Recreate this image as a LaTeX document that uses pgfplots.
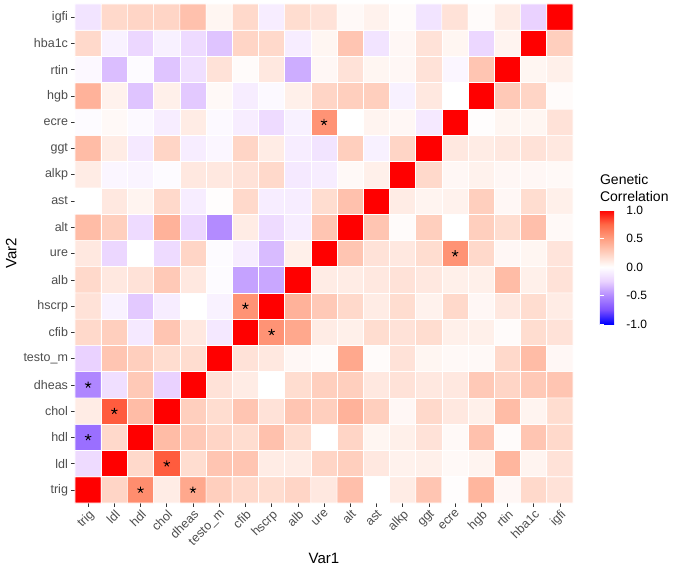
\documentclass[border=0pt]{standalone}
\usepackage{fontspec}
\setmainfont{Liberation Sans}
\usepackage{pgfplots}
\pgfplotsset{compat=1.18}
\definecolor{tickgray}{HTML}{4D4D4D}
\definecolor{tickline}{HTML}{333333}
\begin{document}
\begin{tikzpicture}
\begin{axis}[
 name=ax,
 scale only axis, width=498pt, height=499pt,
 xmin=-0.5, xmax=18.5, ymin=-0.5, ymax=18.5,
 clip=false,
 axis line style={draw=none},
 xtick={0,...,18}, ytick={0,...,18},
 xticklabels={trig,ldl,hdl,chol,dheas,testo\_m,cfib,hscrp,alb,ure,alt,ast,alkp,ggt,ecre,hgb,rtin,hba1c,igfi},
 yticklabels={trig,ldl,hdl,chol,dheas,testo\_m,cfib,hscrp,alb,ure,alt,ast,alkp,ggt,ecre,hgb,rtin,hba1c,igfi},
 tick align=outside, major tick length=3.5pt,
 tick style={tickline, line width=0.5pt},
 xtick pos=bottom, ytick pos=left,
 tick label style={font=\fontsize{12.5}{14}\selectfont, text=tickgray},
 xticklabel style={rotate=45, anchor=north east, inner sep=1.5pt},
 xlabel={Var1}, ylabel={Var2},
 label style={font=\fontsize{15}{18}\selectfont},
 colormap={gg}{rgb255=(0,0,255) rgb255=(126,81,255) rgb255=(179,139,255) rgb255=(234,210,255) rgb255=(255,255,255) rgb255=(255,207,190) rgb255=(255,158,129) rgb255=(255,104,70) rgb255=(255,0,0)},
 point meta min=-1, point meta max=1,
 colorbar,
 colorbar style={
   at={(1.054,0.3587)}, anchor=south west,
   scale only axis, width=23pt, height=114pt,
   y dir=normal,
   ytick={-1,-0.5,0,0.5,1},
   yticklabel={\pgfmathprintnumber[fixed,fixed zerofill,precision=1]{\tick}},
   /pgf/number format/assume math mode=true,
   yticklabel style={font=\fontsize{12}{14}\selectfont, text=black},
   major tick length=4pt, tick align=inside,
   tick style={white, line width=0.7pt},
   ytick pos=both, yticklabel pos=right,
   axis line style={draw=none},
 },
 y dir=normal,
]
\addplot[matrix plot*, mesh/cols=19, point meta=explicit, draw=white, line width=0.6pt, y dir=normal]
 table[x=x, y=y, meta=c, row sep=\\] {
x y c\\
0 0 1\\ 1 0 0.22\\ 2 0 0.58\\ 3 0 0.1\\ 4 0 0.45\\ 5 0 0.25\\ 6 0 0.2\\ 7 0 0.18\\ 8 0 0.22\\ 9 0 0.12\\ 10 0 0.33\\ 11 0 0.0\\ 12 0 0.1\\ 13 0 0.3\\ 14 0 0.01\\ 15 0 0.38\\ 16 0 0.04\\ 17 0 0.2\\ 18 0 0.15\\
0 1 -0.2\\ 1 1 1\\ 2 1 0.2\\ 3 1 0.78\\ 4 1 0.18\\ 5 1 0.3\\ 6 1 0.3\\ 7 1 0.1\\ 8 1 0.1\\ 9 1 0.22\\ 10 1 0.25\\ 11 1 0.12\\ 12 1 0.07\\ 13 1 0.08\\ 14 1 0.03\\ 15 1 0.06\\ 16 1 0.38\\ 17 1 0.06\\ 18 1 0.15\\
0 2 -0.62\\ 1 2 0.2\\ 2 2 1\\ 3 2 0.35\\ 4 2 0.28\\ 5 2 0.22\\ 6 2 0.18\\ 7 2 0.32\\ 8 2 0.18\\ 9 2 0.0\\ 10 2 0.22\\ 11 2 0.05\\ 12 2 0.08\\ 13 2 0.15\\ 14 2 0.03\\ 15 2 0.32\\ 16 2 0.02\\ 17 2 0.3\\ 18 2 0.2\\
0 3 0.1\\ 1 3 0.78\\ 2 3 0.35\\ 3 3 1\\ 4 3 0.25\\ 5 3 0.18\\ 6 3 0.3\\ 7 3 0.15\\ 8 3 0.3\\ 9 3 0.25\\ 10 3 0.4\\ 11 3 0.25\\ 12 3 0.04\\ 13 3 0.2\\ 14 3 0.12\\ 15 3 0.08\\ 16 3 0.35\\ 17 3 0.06\\ 18 3 0.18\\
0 4 -0.52\\ 1 4 -0.18\\ 2 4 0.28\\ 3 4 -0.25\\ 4 4 1\\ 5 4 0.15\\ 6 4 0.1\\ 7 4 0.0\\ 8 4 0.18\\ 9 4 0.25\\ 10 4 0.25\\ 11 4 0.12\\ 12 4 0.15\\ 13 4 0.12\\ 14 4 0.12\\ 15 4 0.28\\ 16 4 0.22\\ 17 4 0.28\\ 18 4 0.3\\
0 5 -0.25\\ 1 5 0.3\\ 2 5 0.25\\ 3 5 0.18\\ 4 5 0.18\\ 5 5 1\\ 6 5 0.15\\ 7 5 0.12\\ 8 5 0.04\\ 9 5 0.02\\ 10 5 0.45\\ 11 5 0.02\\ 12 5 0.15\\ 13 5 0.05\\ 14 5 0.03\\ 15 5 0.03\\ 16 5 0.2\\ 17 5 0.35\\ 18 5 0.04\\
0 6 0.2\\ 1 6 0.25\\ 2 6 -0.12\\ 3 6 0.3\\ 4 6 0.12\\ 5 6 -0.13\\ 6 6 1\\ 7 6 0.55\\ 8 6 0.45\\ 9 6 0.1\\ 10 6 0.08\\ 11 6 0.18\\ 12 6 0.15\\ 13 6 0.18\\ 14 6 0.08\\ 15 6 0.08\\ 16 6 0.02\\ 17 6 0.18\\ 18 6 0.15\\
0 7 0.15\\ 1 7 -0.07\\ 2 7 -0.28\\ 3 7 -0.1\\ 4 7 0.0\\ 5 7 -0.07\\ 6 7 0.55\\ 7 7 1\\ 8 7 0.4\\ 9 7 0.28\\ 10 7 0.2\\ 11 7 0.1\\ 12 7 0.18\\ 13 7 0.07\\ 14 7 0.2\\ 15 7 0.04\\ 16 7 0.12\\ 17 7 0.18\\ 18 7 0.1\\
0 8 0.2\\ 1 8 0.12\\ 2 8 0.15\\ 3 8 0.28\\ 4 8 0.12\\ 5 8 -0.02\\ 6 8 -0.42\\ 7 8 -0.4\\ 8 8 1\\ 9 8 0.1\\ 10 8 0.1\\ 11 8 0.12\\ 12 8 0.15\\ 13 8 0.12\\ 14 8 0.08\\ 15 8 0.08\\ 16 8 0.35\\ 17 8 0.08\\ 18 8 0.15\\
0 9 0.12\\ 1 9 -0.22\\ 2 9 0.0\\ 3 9 -0.2\\ 4 9 0.22\\ 5 9 -0.02\\ 6 9 -0.1\\ 7 9 -0.33\\ 8 9 0.08\\ 9 9 1\\ 10 9 0.3\\ 11 9 0.15\\ 12 9 0.12\\ 13 9 0.18\\ 14 9 0.55\\ 15 9 0.2\\ 16 9 0.04\\ 17 9 0.05\\ 18 9 0.14\\
0 10 0.35\\ 1 10 0.25\\ 2 10 -0.2\\ 3 10 0.4\\ 4 10 -0.22\\ 5 10 -0.5\\ 6 10 0.1\\ 7 10 -0.2\\ 8 10 -0.1\\ 9 10 0.3\\ 10 10 1\\ 11 10 0.3\\ 12 10 0.02\\ 13 10 0.25\\ 14 10 0.0\\ 15 10 0.25\\ 16 10 0.18\\ 17 10 0.33\\ 18 10 0.03\\
0 11 0.0\\ 1 11 0.12\\ 2 11 0.06\\ 3 11 0.2\\ 4 11 -0.1\\ 5 11 0.01\\ 6 11 0.2\\ 7 11 -0.1\\ 8 11 -0.1\\ 9 11 0.18\\ 10 11 0.32\\ 11 11 1\\ 12 11 0.1\\ 13 11 0.06\\ 14 11 0.07\\ 15 11 0.25\\ 16 11 0.04\\ 17 11 0.18\\ 18 11 0.08\\
0 12 0.1\\ 1 12 -0.05\\ 2 12 -0.06\\ 3 12 -0.02\\ 4 12 0.12\\ 5 12 0.12\\ 6 12 0.15\\ 7 12 0.2\\ 8 12 -0.12\\ 9 12 -0.1\\ 10 12 0.03\\ 11 12 0.08\\ 12 12 1\\ 13 12 0.2\\ 14 12 0.04\\ 15 12 0.07\\ 16 12 0.04\\ 17 12 0.04\\ 18 12 0.03\\
0 13 0.35\\ 1 13 0.1\\ 2 13 -0.12\\ 3 13 0.22\\ 4 13 -0.1\\ 5 13 -0.05\\ 6 13 0.22\\ 7 13 0.1\\ 8 13 -0.1\\ 9 13 -0.15\\ 10 13 0.25\\ 11 13 -0.08\\ 12 13 0.22\\ 13 13 1\\ 14 13 0.12\\ 15 13 0.1\\ 16 13 0.12\\ 17 13 0.15\\ 18 13 0.12\\
0 14 -0.02\\ 1 14 0.03\\ 2 14 -0.03\\ 3 14 -0.1\\ 4 14 0.1\\ 5 14 -0.03\\ 6 14 -0.1\\ 7 14 -0.2\\ 8 14 -0.08\\ 9 14 0.55\\ 10 14 0.0\\ 11 14 0.06\\ 12 14 0.04\\ 13 14 -0.12\\ 14 14 1\\ 15 14 0.01\\ 16 14 0.05\\ 17 14 0.05\\ 18 14 0.15\\
0 15 0.4\\ 1 15 0.07\\ 2 15 -0.3\\ 3 15 0.08\\ 4 15 -0.28\\ 5 15 0.03\\ 6 15 -0.1\\ 7 15 -0.03\\ 8 15 0.08\\ 9 15 0.22\\ 10 15 0.25\\ 11 15 0.25\\ 12 15 -0.08\\ 13 15 0.12\\ 14 15 0.0\\ 15 15 1\\ 16 15 0.28\\ 17 15 0.22\\ 18 15 0.02\\
0 16 -0.04\\ 1 16 -0.32\\ 2 16 -0.02\\ 3 16 -0.3\\ 4 16 -0.18\\ 5 16 0.15\\ 6 16 0.02\\ 7 16 0.12\\ 8 16 -0.38\\ 9 16 0.04\\ 10 16 0.15\\ 11 16 0.05\\ 12 16 0.04\\ 13 16 0.15\\ 14 16 -0.05\\ 15 16 0.3\\ 16 16 1\\ 17 16 0.05\\ 18 16 0.08\\
0 17 0.2\\ 1 17 -0.07\\ 2 17 -0.22\\ 3 17 -0.08\\ 4 17 -0.2\\ 5 17 -0.3\\ 6 17 0.22\\ 7 17 0.2\\ 8 17 -0.1\\ 9 17 0.05\\ 10 17 0.3\\ 11 17 -0.15\\ 12 17 0.04\\ 13 17 0.15\\ 14 17 0.05\\ 15 17 -0.22\\ 16 17 0.06\\ 17 17 1\\ 18 17 0.25\\
0 18 -0.15\\ 1 18 0.2\\ 2 18 0.22\\ 3 18 0.22\\ 4 18 0.32\\ 5 18 0.05\\ 6 18 0.2\\ 7 18 -0.1\\ 8 18 0.18\\ 9 18 0.15\\ 10 18 0.03\\ 11 18 0.07\\ 12 18 0.02\\ 13 18 -0.15\\ 14 18 0.15\\ 15 18 0.02\\ 16 18 0.1\\ 17 18 -0.25\\ 18 18 1\\
};
\addplot[only marks, mark=star, mark size=3.3pt, black, mark options={line width=0.9pt, black}]
 coordinates {(0,4) (0,2) (1,3) (2,0) (3,1) (4,0) (6,7) (7,6) (9,14) (14,9)};
\node[anchor=south west, inner sep=0pt, align=left, font=\fontsize{14}{17}\selectfont] at (rel axis cs:1.054,0.603) {Genetic\\Correlation};
\end{axis}
\path (ax.south west) ++(-75pt,-81pt) rectangle ++(675pt,584pt);
\end{tikzpicture}
\end{document}
